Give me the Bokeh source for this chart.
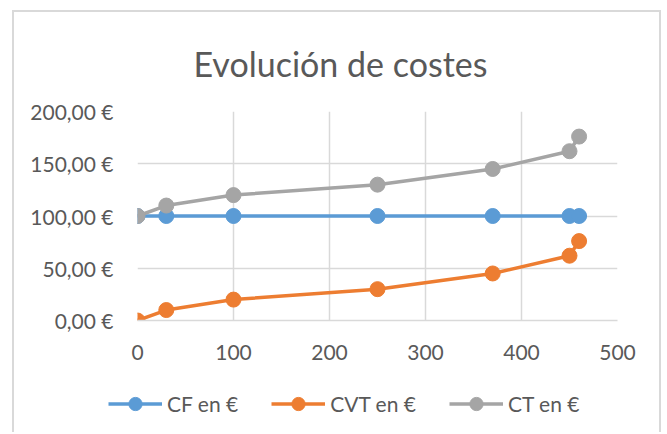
from bokeh.plotting import figure
from bokeh.models import Legend, LegendItem, FixedTicker, ColumnDataSource
from bokeh.embed import file_html
from bokeh.resources import INLINE

# ---- data ----
units = [0, 30, 100, 250, 370, 450, 460]
cf = [100, 100, 100, 100, 100, 100, 100]
cvt = [0, 10, 20, 30, 45, 62, 76]
ct = [100, 110, 120, 130, 145, 162, 176]
series_names = ["CF en €", "CVT en €", "CT en €"]
series_colors = ["#5B9BD5", "#ED7D31", "#A5A5A5"]
y_ticks = [0, 50, 100, 150, 200]
y_labels = ["0,00 €", "50,00 €", "100,00 €", "150,00 €", "200,00 €"]
x_ticks = [0, 100, 200, 300, 400, 500]
x_labels = ["0", "100", "200", "300", "400", "500"]
title_text = "Evolución de costes"

FONT = "Lato"
TXT = "#595959"
GRID = "#d9d9d9"
BORDER = "2px solid #d9d9d9"

# ---- main chart ----
p = figure(width=649, height=368, output_backend="svg", toolbar_location=None,
           x_range=(0, 500), y_range=(0, 200),
           min_border_left=123, min_border_right=46, min_border_top=98, min_border_bottom=60)
p.margin = (10, 0, 0, 12)
p.styles = {"border-left": BORDER, "border-top": BORDER, "border-right": BORDER}

p.title.text = title_text
p.title.align = "left"
p.title.offset = 56
p.title.text_font = FONT
p.title.text_font_size = "34px"
p.title.text_font_style = "normal"
p.title.text_color = TXT
p.title.standoff = 56

p.outline_line_color = None
p.background_fill_color = "white"
p.border_fill_color = "white"

for ax in (p.xaxis[0], p.yaxis[0]):
    ax.major_tick_line_color = None
    ax.minor_tick_line_color = None
    ax.major_label_text_font = FONT
    ax.major_label_text_font_size = "21px"
    ax.major_label_text_color = TXT
    ax.major_label_standoff = 18
p.xaxis[0].axis_line_color = GRID
p.xaxis[0].axis_line_width = 1.5
p.yaxis[0].axis_line_color = None
p.xaxis[0].ticker = FixedTicker(ticks=x_ticks)
p.yaxis[0].ticker = FixedTicker(ticks=y_ticks)
p.xaxis[0].major_label_overrides = {t: l for t, l in zip(x_ticks, x_labels)}
p.yaxis[0].major_label_overrides = {t: l for t, l in zip(y_ticks, y_labels)}

p.xgrid.grid_line_color = GRID
p.ygrid.grid_line_color = GRID
p.xgrid.grid_line_width = 1.5
p.ygrid.grid_line_width = 1.5

sources = []
for vals, col in zip([cf, cvt, ct], series_colors):
    src = ColumnDataSource(dict(x=units, y=vals))
    sources.append(src)
    p.line("x", "y", source=src, line_color=col, line_width=3.5)
    p.scatter("x", "y", source=src, size=15, fill_color=col, line_color=col)

# ---- legend strip: same series styles; its ranges show no data, only the legend ----
lg = figure(width=649, height=54, output_backend="svg", toolbar_location=None,
            x_range=(-20, -10), y_range=(-20, -10), x_axis_location=None, y_axis_location=None,
            min_border_left=0, min_border_right=0, min_border_top=0, min_border_bottom=0)
lg.margin = (0, 0, 0, 12)
lg.styles = {"border-left": BORDER, "border-right": BORDER}
lg.outline_line_color = None
lg.xgrid.visible = False
lg.ygrid.visible = False
lg.background_fill_color = "white"
lg.border_fill_color = "white"

items = []
for name, src, col in zip(series_names, sources, series_colors):
    r1 = lg.line("x", "y", source=src, line_color=col, line_width=3.5)
    r2 = lg.scatter("x", "y", source=src, size=15, fill_color=col, line_color=col)
    items.append(LegendItem(label=name, renderers=[r1, r2]))

legend = Legend(items=items, orientation="horizontal", location=(94, 12))
legend.label_text_font = FONT
legend.label_text_font_size = "21px"
legend.label_text_color = TXT
legend.glyph_width = 54
legend.glyph_height = 33
legend.label_height = 33
legend.label_standoff = 5
legend.spacing = 33
legend.padding = 0
legend.margin = 0
legend.border_line_color = None
legend.background_fill_alpha = 0
lg.add_layout(legend)

open("out.html", "w").write(file_html([p, lg], INLINE))
